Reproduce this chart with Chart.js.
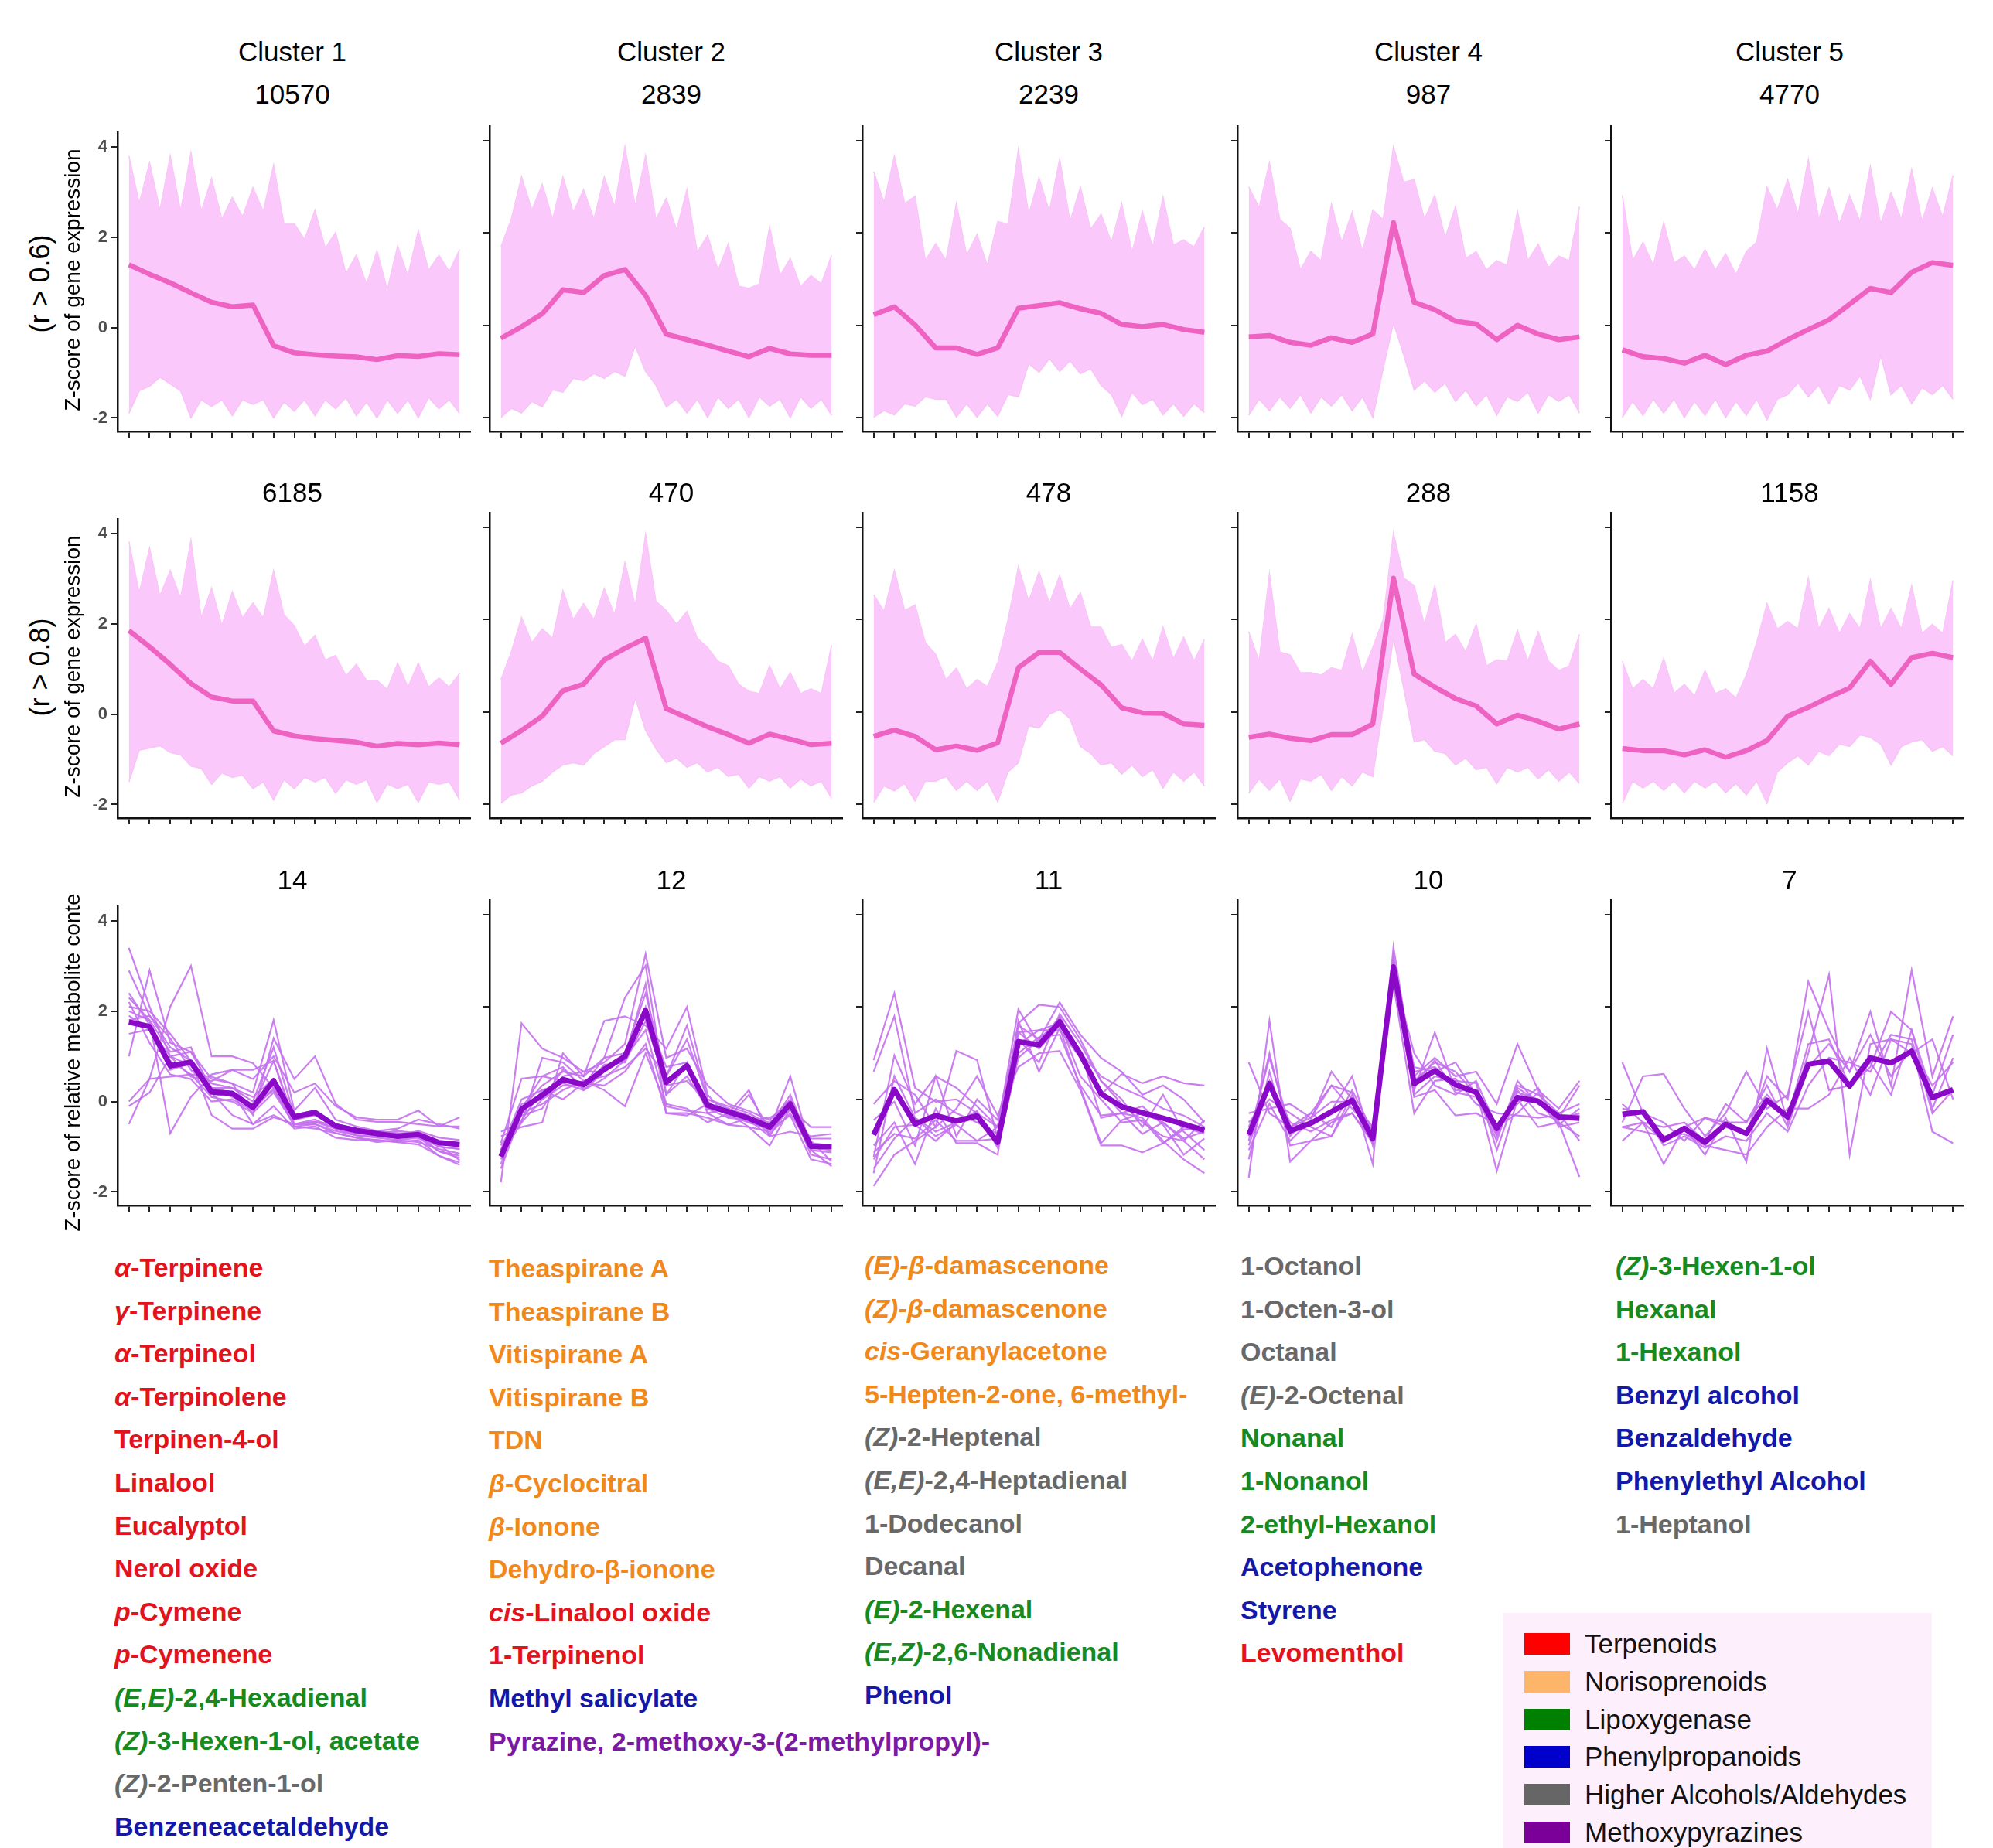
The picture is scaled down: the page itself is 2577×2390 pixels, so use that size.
<!DOCTYPE html>
<html><head><meta charset="utf-8">
<script src="https://cdn.jsdelivr.net/npm/chart.js@4/dist/chart.umd.min.js"></script>
<style>
body{margin:0;background:#fff;width:2577px;height:2390px;position:relative;overflow:hidden;font-family:"Liberation Sans",Arial,sans-serif;}
.t{position:absolute;white-space:nowrap;transform:translate(-50%,-50%);color:#000;}
.rot{position:absolute;white-space:nowrap;transform:translate(-50%,-50%) rotate(-90deg);color:#000;}
canvas{position:absolute;}
.item{position:absolute;white-space:nowrap;font-weight:bold;font-size:34px;line-height:40px;}
</style></head><body>
<script>
// ---------------- DATA ----------------
const stages = [1,2,3,4,5,6,7,8,9,10,11,12,13,14,15,16,17];
const halfSteps = [1,1.5,2,2.5,3,3.5,4,4.5,5,5.5,6,6.5,7,7.5,8,8.5,9,9.5,10,10.5,11,11.5,12,12.5,13,13.5,14,14.5,15,15.5,16,16.5,17];
const yTickValues = [-2,0,2,4];

const clusterNames = ['Cluster 1','Cluster 2','Cluster 3','Cluster 4','Cluster 5'];
const countsR06 = ['10570','2839','2239','987','4770'];
const countsR08 = ['6185','470','478','288','1158'];
const countsMet = ['14','12','11','10','7'];

// Row 1 (r > 0.6): mean profiles + envelope of all genes (tick values / between-tick values)
const r1c1Mean = [1.39,1.18,0.99,0.77,0.56,0.46,0.5,-0.4,-0.56,-0.6,-0.63,-0.65,-0.71,-0.62,-0.64,-0.58,-0.6];
const r1c1UpT = [3.8,3.65,3.8,3.87,3.3,2.88,3.1,3.6,2.3,2.6,2.1,1.6,1.7,1.8,2.15,1.6,1.73];
const r1c1UpM = [2.75,2.6,2.57,2.57,2.4,2.45,2.57,2.3,1.95,1.76,1.2,0.96,0.84,1.15,1.27,1.24];
const r1c1LoT = [-1.9,-1.3,-1.25,-2.0,-1.75,-1.95,-1.7,-2.0,-1.85,-1.95,-1.8,-1.95,-2.0,-1.9,-2.0,-1.8,-1.9];
const r1c1LoM = [-1.4,-1.1,-1.4,-1.6,-1.6,-1.6,-1.6,-1.65,-1.6,-1.6,-1.55,-1.65,-1.6,-1.6,-1.55,-1.6];

const r1c2Mean = [-0.28,-0.03,0.25,0.77,0.71,1.08,1.21,0.65,-0.19,-0.31,-0.43,-0.56,-0.68,-0.5,-0.62,-0.65,-0.65];
const r1c2UpT = [1.7,3.22,3.06,3.22,2.94,3.22,3.87,3.68,2.75,2.94,1.95,1.76,0.8,2.14,1.45,1.08,1.52];
const r1c2UpM = [2.3,2.5,2.3,2.45,2.3,2.57,2.57,2.3,2.07,1.58,1.2,0.85,0.9,1.08,0.84,0.9];
const r1c2LoT = [-2.0,-1.9,-1.77,-1.45,-1.2,-1.15,-1.1,-1.0,-1.77,-1.9,-2.0,-1.8,-2.0,-1.75,-2.0,-1.8,-1.95];
const r1c2LoM = [-1.8,-1.65,-1.4,-1.15,-1.05,-1.0,-0.45,-1.3,-1.6,-1.6,-1.55,-1.6,-1.55,-1.6,-1.55,-1.6];

const r1c3Mean = [0.23,0.4,0.01,-0.49,-0.49,-0.63,-0.49,0.37,0.43,0.49,0.36,0.26,0.02,-0.03,0.02,-0.09,-0.15];
const r1c3UpT = [3.33,3.67,2.8,1.77,2.64,1.97,2.25,3.81,3.2,3.61,3.0,2.41,2.64,2.47,2.78,1.85,2.13];
const r1c3UpM = [2.66,2.64,1.41,1.41,1.52,1.3,2.19,2.41,2.47,2.25,2.08,1.8,1.58,1.69,1.74,1.7];
const r1c3LoT = [-1.99,-1.94,-1.75,-1.6,-1.99,-1.99,-1.97,-1.55,-1.02,-1.0,-1.05,-1.3,-1.97,-1.72,-1.94,-1.97,-1.89];
const r1c3LoM = [-1.85,-1.7,-1.55,-1.6,-1.7,-1.7,-1.5,-0.83,-0.72,-0.77,-0.94,-1.5,-1.45,-1.6,-1.7,-1.7];

const r1c4Mean = [-0.25,-0.22,-0.37,-0.43,-0.27,-0.37,-0.19,2.23,0.5,0.34,0.09,0.03,-0.31,0.0,-0.19,-0.31,-0.25];
const r1c4UpT = [3.0,3.53,2.1,1.6,2.63,2.45,2.5,3.87,3.16,2.82,2.57,1.6,1.4,2.48,1.76,1.5,2.57];
const r1c4UpM = [2.55,2.3,1.2,1.4,1.8,1.6,2.3,3.1,2.3,1.9,1.45,1.2,1.3,1.4,1.25,1.4];
const r1c4LoT = [-1.95,-1.85,-1.8,-1.9,-1.75,-1.85,-2.0,0.05,-1.4,-1.45,-1.65,-1.75,-1.95,-1.65,-1.9,-1.65,-1.9];
const r1c4LoM = [-1.6,-1.55,-1.5,-1.55,-1.5,-1.55,-0.95,-0.65,-1.2,-1.25,-1.4,-1.5,-1.55,-1.45,-1.5,-1.5];

const r1c5Mean = [-0.53,-0.68,-0.72,-0.82,-0.65,-0.85,-0.65,-0.56,-0.31,-0.09,0.12,0.46,0.8,0.71,1.15,1.36,1.3];
const r1c5UpT = [2.82,1.8,2.23,1.5,1.65,1.55,1.6,3.0,3.16,3.6,2.97,2.82,3.44,2.88,3.38,2.97,3.25];
const r1c5UpM = [1.4,1.3,1.35,1.2,1.2,1.1,1.8,2.5,2.4,2.3,2.2,2.25,2.2,2.3,2.25,2.35];
const r1c5LoT = [-2.0,-1.95,-1.9,-2.0,-1.95,-2.0,-1.95,-2.05,-1.5,-1.55,-1.7,-1.4,-1.6,-1.5,-1.7,-1.5,-1.6];
const r1c5LoM = [-1.65,-1.6,-1.6,-1.65,-1.6,-1.65,-1.6,-1.6,-1.25,-1.3,-1.3,-1.1,-0.65,-1.3,-1.35,-1.3];

// Row 2 (r > 0.8)
const r2c1Mean = [1.85,1.49,1.1,0.68,0.38,0.29,0.29,-0.37,-0.48,-0.54,-0.58,-0.62,-0.71,-0.65,-0.68,-0.64,-0.68];
const r2c1UpT = [3.82,3.68,3.18,3.85,2.79,2.71,2.46,3.18,1.96,1.74,1.3,1.1,0.75,1.13,1.13,0.8,0.9];
const r2c1UpM = [2.68,2.62,2.57,2.13,1.96,2.13,2.13,2.2,1.5,1.2,0.85,0.75,0.55,0.6,0.6,0.6];
const r2c1LoT = [-1.5,-0.75,-0.85,-1.15,-1.55,-1.4,-1.65,-1.9,-1.65,-1.5,-1.75,-1.55,-1.95,-1.65,-1.95,-1.55,-1.9];
const r2c1LoM = [-0.8,-0.7,-0.9,-1.2,-1.3,-1.35,-1.5,-1.45,-1.4,-1.4,-1.45,-1.45,-1.55,-1.55,-1.5,-1.5];

const r2c2Mean = [-0.68,-0.4,-0.09,0.46,0.6,1.13,1.38,1.6,0.07,-0.12,-0.32,-0.49,-0.68,-0.48,-0.59,-0.71,-0.68];
const r2c2UpT = [0.7,2.05,1.8,2.63,2.35,2.68,3.24,3.85,2.2,2.18,1.4,1.0,0.45,1.0,0.85,0.5,1.45];
const r2c2UpM = [1.3,1.5,1.6,2.0,2.0,2.1,2.3,2.4,1.9,1.6,1.1,0.6,0.4,0.5,0.4,0.4];
const r2c2LoT = [-1.98,-1.75,-1.5,-1.15,-1.15,-0.75,-0.6,-0.4,-1.1,-1.2,-1.3,-1.4,-1.65,-1.5,-1.65,-1.6,-1.87];
const r2c2LoM = [-1.8,-1.6,-1.3,-1.1,-0.9,-0.6,0.3,-0.8,-1.0,-1.1,-1.2,-1.35,-1.4,-1.4,-1.45,-1.5];

const r2c3Mean = [-0.53,-0.39,-0.53,-0.82,-0.74,-0.83,-0.67,0.96,1.29,1.29,0.93,0.59,0.09,-0.02,-0.03,-0.26,-0.29];
const r2c3UpT = [2.54,3.07,2.32,1.25,0.95,0.7,1.07,3.15,3.04,2.96,2.59,1.84,1.46,1.57,1.84,1.62,1.57];
const r2c3UpM = [2.18,2.2,1.5,0.7,0.5,0.55,2.0,2.4,2.35,2.23,1.84,1.4,1.1,1.1,1.15,1.1];
const r2c3LoT = [-1.96,-1.71,-1.93,-1.5,-1.7,-1.7,-1.95,-1.1,-0.35,0.05,-0.75,-1.15,-1.35,-1.4,-1.65,-1.5,-1.6];
const r2c3LoM = [-1.6,-1.55,-1.5,-1.4,-1.5,-1.5,-1.3,-0.3,-0.05,-0.15,-0.9,-1.1,-1.15,-1.25,-1.3,-1.3];

const r2c4Mean = [-0.55,-0.48,-0.57,-0.62,-0.49,-0.49,-0.26,2.9,0.82,0.54,0.29,0.13,-0.26,-0.07,-0.2,-0.37,-0.26];
const r2c4UpT = [1.74,2.99,1.24,0.85,0.96,1.68,1.4,3.88,2.74,2.74,1.68,1.9,1.13,1.77,1.74,0.9,1.68];
const r2c4UpM = [1.1,1.3,0.85,0.8,0.9,0.85,2.0,2.9,1.9,1.5,1.3,1.0,1.1,1.1,1.1,1.0];
const r2c4LoT = [-1.76,-1.7,-1.93,-1.5,-1.7,-1.6,-1.4,1.6,-0.65,-0.85,-1.15,-1.25,-1.55,-1.3,-1.45,-1.5,-1.55];
const r2c4LoM = [-1.45,-1.45,-1.45,-1.35,-1.4,-1.3,0.1,0.5,-0.6,-0.9,-1.0,-1.2,-1.2,-1.2,-1.25,-1.3];

const r2c5Mean = [-0.79,-0.84,-0.84,-0.93,-0.82,-0.98,-0.84,-0.62,-0.09,0.1,0.32,0.52,1.1,0.6,1.18,1.27,1.18];
const r2c5UpT = [1.1,0.7,1.16,0.6,0.9,0.5,0.8,2.35,1.96,2.9,2.24,2.13,2.85,2.24,2.74,1.9,2.85];
const r2c5UpM = [0.5,0.5,0.4,0.35,0.4,0.3,1.5,1.8,1.8,1.8,1.7,1.8,1.8,1.8,1.7,1.7];
const r2c5LoT = [-1.98,-1.65,-1.7,-1.75,-1.65,-1.75,-1.8,-1.98,-1.1,-1.15,-0.95,-0.75,-0.55,-1.15,-0.65,-0.85,-0.95];
const r2c5LoM = [-1.5,-1.5,-1.5,-1.5,-1.5,-1.55,-1.5,-1.3,-0.95,-0.85,-0.7,-0.5,-0.7,-0.75,-0.6,-0.75];

// Row 3: metabolites (mean + individual compounds)
const r3c1Mean = [1.76,1.66,0.79,0.87,0.21,0.18,-0.13,0.46,-0.34,-0.24,-0.54,-0.64,-0.71,-0.77,-0.73,-0.91,-0.95];
const r3c1Lines = [
 [3.4,2.1,1.0,1.1,0.3,0.2,-0.1,0.9,-0.4,-0.3,-0.5,-0.6,-0.7,-0.8,-0.7,-1.0,-1.05],
 [2.9,1.9,1.2,0.9,0.4,0.3,0.0,1.2,-0.3,-0.2,-0.6,-0.7,-0.75,-0.8,-0.75,-1.1,-1.2],
 [1.0,2.9,1.3,1.1,0.5,0.4,0.2,1.8,-0.2,0.3,-0.4,-0.55,-0.65,-0.7,-0.7,-0.9,-1.0],
 [0.0,0.5,2.1,3.0,1.0,1.0,0.85,0.3,-0.5,-0.4,-0.6,-0.7,-0.75,-0.7,-0.8,-0.95,-1.3],
 [-0.5,0.5,0.55,0.6,0.55,0.4,-0.3,1.4,0.5,1.0,-0.05,-0.4,-0.45,-0.45,-0.5,-0.55,-0.55],
 [-0.1,0.2,1.0,0.55,0.45,0.7,0.5,1.0,0.2,0.4,-0.1,-0.35,-0.4,-0.4,-0.2,-0.55,-0.35],
 [2.0,1.8,-0.7,0.1,0.6,0.7,0.7,0.9,-0.5,-0.45,-0.6,-0.75,-0.8,-0.85,-0.8,-1.1,-1.25],
 [2.3,1.8,1.1,1.2,0.2,-0.3,-0.5,-0.3,-0.55,-0.5,-0.7,-0.8,-0.85,-0.9,-0.85,-1.2,-1.35],
 [2.1,2.0,1.5,0.9,-0.3,-0.6,-0.6,-0.35,-0.5,-0.45,-0.5,-0.65,-0.7,-0.65,-0.7,-0.9,-0.95],
 [1.8,1.9,1.4,0.7,0.3,0.1,-0.1,0.25,-0.4,-0.3,-0.55,-0.65,-0.7,-0.75,-0.65,-0.8,-0.85],
 [2.4,1.7,0.7,0.85,0.1,0.2,-0.5,-0.1,-0.6,-0.55,-0.8,-0.85,-0.85,-0.9,-0.95,-1.2,-1.4],
 [1.5,1.6,0.9,0.6,0.1,0.0,-0.25,0.2,-0.5,-0.5,-0.65,-0.75,-0.78,-0.8,-0.78,-1.0,-1.05],
 [2.2,1.3,0.6,0.5,0.0,0.05,-0.2,0.3,-0.55,-0.6,-0.7,-0.8,-0.9,-0.85,-0.9,-1.05,-1.15],
 [1.9,1.6,1.0,0.8,0.3,0.3,0.1,0.5,-0.3,-0.25,-0.5,-0.6,-0.65,-0.6,-0.4,-0.5,-0.6]
];
const r3c2Mean = [-1.24,-0.21,0.09,0.43,0.32,0.65,0.93,1.93,0.37,0.73,-0.13,-0.27,-0.41,-0.6,-0.1,-1.02,-1.02];
const r3c2Lines = [
 [-1.8,1.65,1.1,0.9,0.6,0.8,1.2,3.15,0.9,1.1,0.3,-0.1,-0.25,-0.45,0.0,-0.9,-1.35],
 [-0.8,-0.6,-0.5,1.0,0.5,1.7,1.8,1.6,1.1,2.0,0.1,-0.4,0.1,-0.65,0.5,-1.1,-1.45],
 [-1.4,-0.2,0.5,0.4,0.3,0.9,2.2,2.9,0.1,0.8,-0.2,-0.3,-0.6,-1.0,-0.2,-0.85,-0.85],
 [-0.95,0.45,0.5,0.7,0.2,0.6,0.9,2.5,-0.3,-0.3,-0.4,-0.55,-0.6,-0.7,-0.2,-0.6,-0.6],
 [-1.2,-0.5,0.0,0.3,0.3,0.7,0.9,1.5,-0.1,-0.2,-0.5,-0.3,0.2,-0.8,-0.7,-0.8,-0.75],
 [-0.7,-0.5,0.9,0.8,0.4,0.2,-0.15,1.0,-0.15,-0.25,-0.3,-0.55,-0.4,-0.5,-0.15,-1.2,-1.3],
 [-1.1,-0.2,0.3,0.6,0.5,0.9,1.0,2.3,0.5,1.3,0.0,-0.2,-0.5,-0.6,0.1,-1.0,-1.05],
 [-1.3,-0.45,0.2,0.0,0.35,0.3,0.6,1.2,-0.3,-0.35,-0.1,-0.3,-0.45,-0.4,-0.15,-0.95,-1.0],
 [-1.0,-0.35,-0.2,0.5,0.6,0.6,1.0,1.8,0.7,0.8,-0.3,-0.2,-0.35,-0.75,-0.3,-1.05,-1.1],
 [-1.5,-0.3,-0.1,0.2,0.4,0.5,0.7,1.1,0.5,1.6,0.0,-0.15,-0.3,-0.55,0.0,-1.1,-1.15],
 [-1.25,-0.1,0.0,0.65,0.25,0.75,0.8,1.7,0.3,0.4,-0.05,-0.35,-0.5,-0.65,-0.35,-1.3,-1.4],
 [-1.1,0.0,0.2,0.35,0.2,0.45,0.85,2.0,0.1,0.5,-0.2,-0.4,-0.45,-0.8,-0.1,-1.0,-1.0]
];
const r3c3Mean = [-0.77,0.21,-0.53,-0.35,-0.47,-0.36,-0.93,1.25,1.18,1.68,0.98,0.12,-0.16,-0.29,-0.41,-0.54,-0.67];
const r3c3Lines = [
 [0.85,2.3,0.25,-0.05,0.0,-0.3,-0.6,1.95,1.2,1.8,0.95,0.2,-0.3,-0.4,-0.9,-1.3,-1.6],
 [0.6,1.8,-0.3,0.0,-0.3,-0.5,-0.75,1.65,2.05,2.0,1.3,0.4,-0.1,-0.5,-0.8,-0.9,-1.3],
 [-1.25,0.95,-0.1,0.5,0.25,-0.15,-0.6,1.6,1.3,2.1,1.4,0.9,0.6,0.1,0.3,0.0,-0.5],
 [-0.1,0.4,0.1,-0.6,1.05,0.85,-0.85,1.45,1.5,1.5,0.9,0.1,0.55,0.35,0.5,0.35,0.3],
 [-1.88,-1.2,-0.9,-0.6,-0.2,0.5,-0.35,0.7,1.0,1.05,0.2,-1.0,-1.0,-1.15,-0.95,-0.65,-0.65],
 [-1.6,0.5,-0.4,-0.8,-0.55,-0.9,-0.6,1.3,0.8,1.85,1.2,0.4,0.0,-0.6,0.1,-0.7,-1.1],
 [-1.0,-0.5,-1.4,-0.2,-0.95,-0.95,-1.2,1.7,0.6,1.55,0.25,-0.95,-0.45,-0.3,-0.5,-0.9,-0.45],
 [-1.5,-0.85,-0.4,-0.7,-0.5,-0.3,-0.95,1.0,1.35,1.4,0.3,-0.35,-0.3,-0.15,-0.55,-1.2,-0.85],
 [-0.45,-0.05,-1.0,0.5,-0.8,0.0,-0.45,1.45,1.1,1.6,1.0,0.5,0.25,0.05,-0.2,-0.35,-0.6],
 [-1.3,-0.6,-0.55,-0.9,-0.5,-0.25,-1.05,0.9,1.3,1.75,1.05,-0.4,-0.3,-0.75,-0.5,-0.85,-0.7],
 [-1.15,-0.75,-0.85,-0.45,-0.9,-0.9,-0.85,1.2,1.5,1.65,0.5,0.0,-0.5,-0.45,-0.95,-0.6,-0.75]
];
const r3c4Mean = [-0.77,0.34,-0.68,-0.52,-0.27,-0.02,-0.85,2.87,0.34,0.62,0.32,0.15,-0.63,0.04,-0.04,-0.38,-0.41];
const r3c4Lines = [
 [0.8,-0.3,-0.6,-0.4,0.3,0.15,-1.4,3.3,0.5,0.9,0.5,0.6,-0.1,1.2,0.2,-0.2,0.4],
 [-1.7,1.7,-1.35,-0.9,-0.5,-0.3,-0.9,2.6,0.2,1.45,0.2,0.2,-1.55,0.0,-0.6,-0.5,-1.68],
 [-0.9,1.0,-0.8,-0.3,0.3,-0.2,-0.7,2.9,0.7,0.6,0.8,0.1,-0.75,0.3,0.1,-0.3,-0.1],
 [-1.3,0.6,-1.0,-0.9,-0.8,0.1,-0.8,2.7,1.0,0.3,0.1,0.4,-0.6,-0.3,0.15,-0.5,-0.8],
 [-0.5,0.0,-0.3,-0.6,-0.8,-0.05,-0.6,3.0,0.1,0.5,0.4,0.35,-1.1,0.2,-0.3,-0.45,-0.3],
 [-1.0,0.3,-0.75,-0.5,-0.25,0.5,-1.0,2.8,0.05,0.2,-0.35,-0.3,-0.55,-0.1,0.25,-0.6,-0.5],
 [-0.3,-0.2,-0.1,-0.4,-0.05,-0.05,-0.7,2.5,-0.3,0.4,0.45,-0.1,-0.3,-0.35,-0.4,-0.35,-0.35],
 [-1.1,-0.1,-0.9,-0.45,0.6,0.0,-0.9,2.9,0.6,0.7,0.3,0.2,-0.8,0.15,0.0,-0.4,0.3],
 [-0.6,0.4,-0.5,-0.7,-0.45,-0.3,-0.95,3.1,0.4,0.8,0.6,0.1,-0.9,0.4,-0.1,-0.3,-0.9],
 [-0.8,0.9,-0.6,-0.3,-0.6,0.2,-0.7,2.75,0.3,0.85,0.15,0.05,-0.7,0.25,-0.05,-0.55,-0.2]
];
const r3c5Mean = [-0.32,-0.27,-0.88,-0.63,-0.93,-0.54,-0.74,-0.02,-0.38,0.76,0.83,0.29,0.9,0.79,1.04,0.04,0.21];
const r3c5Lines = [
 [0.8,-0.3,-0.5,-0.9,-0.4,-0.6,-0.75,0.5,0.0,2.55,1.5,0.6,1.9,0.3,2.8,0.5,1.8],
 [-0.5,0.5,0.55,-0.2,-0.8,-0.3,0.6,-0.2,0.1,1.9,0.2,0.3,0.7,1.9,1.5,0.1,1.4],
 [-0.9,-0.5,-1.4,-0.6,-1.2,-0.4,-1.35,1.1,-0.5,1.0,2.7,-1.2,1.2,1.3,1.2,-0.7,-0.95],
 [-0.6,-0.7,-0.8,-0.75,-1.0,-1.1,-1.2,-0.6,-0.2,-0.2,0.1,0.9,0.1,1.3,1.0,1.3,0.0],
 [-0.1,-0.5,-0.9,-0.6,-0.4,-0.5,-0.5,0.3,-0.6,0.7,1.2,0.6,1.4,0.5,1.1,0.3,0.8],
 [-0.2,-0.3,-1.0,-0.8,-1.05,-0.8,-0.9,-0.3,-0.7,0.3,0.9,0.8,0.6,1.4,1.3,-0.3,0.2],
 [-0.6,-0.5,-0.6,-0.5,-0.9,-0.1,-0.5,0.1,-0.4,1.2,1.3,0.3,0.8,0.1,1.5,-0.2,0.9]
];

// Compound lists ("*...*" = italic), category code
const compoundsC1 = [['*α*-Terpinene','T'],['*γ*-Terpinene','T'],['*α*-Terpineol','T'],['*α*-Terpinolene','T'],['Terpinen-4-ol','T'],['Linalool','T'],['Eucalyptol','T'],['Nerol oxide','T'],['*p*-Cymene','T'],['*p*-Cymenene','T'],['*(E,E)*-2,4-Hexadienal','L'],['*(Z)*-3-Hexen-1-ol, acetate','L'],['*(Z)*-2-Penten-1-ol','H'],['Benzeneacetaldehyde','P']];
const compoundsC2 = [['Theaspirane A','N'],['Theaspirane B','N'],['Vitispirane A','N'],['Vitispirane B','N'],['TDN','N'],['*β*-Cyclocitral','N'],['*β*-Ionone','N'],['Dehydro-β-ionone','N'],['*cis*-Linalool oxide','T'],['1-Terpinenol','T'],['Methyl salicylate','P'],['Pyrazine, 2-methoxy-3-(2-methylpropyl)-','M']];
const compoundsC3 = [['*(E)-β*-damascenone','N'],['*(Z)-β*-damascenone','N'],['*cis*-Geranylacetone','N'],['5-Hepten-2-one, 6-methyl-','N'],['*(Z)*-2-Heptenal','H'],['*(E,E)*-2,4-Heptadienal','H'],['1-Dodecanol','H'],['Decanal','H'],['*(E)*-2-Hexenal','L'],['*(E,Z)*-2,6-Nonadienal','L'],['Phenol','P']];
const compoundsC4 = [['1-Octanol','H'],['1-Octen-3-ol','H'],['Octanal','H'],['*(E)*-2-Octenal','H'],['Nonanal','L'],['1-Nonanol','L'],['2-ethyl-Hexanol','L'],['Acetophenone','P'],['Styrene','P'],['Levomenthol','T']];
const compoundsC5 = [['*(Z)*-3-Hexen-1-ol','L'],['Hexanal','L'],['1-Hexanol','L'],['Benzyl alcohol','P'],['Benzaldehyde','P'],['Phenylethyl Alcohol','P'],['1-Heptanol','H']];

const legendLabels = ['Terpenoids','Norisoprenoids','Lipoxygenase','Phenylpropanoids','Higher Alcohols/Aldehydes','Methoxypyrazines'];
const legendCats = ['T','N','L','P','H','M'];

// ---------------- STYLE / LAYOUT ----------------
const textColors = {T:'#E2131C',N:'#F0881C',L:'#168A1E',P:'#1418A8',H:'#686868',M:'#7A1AA2'};
const swatchColors = {T:'#FF0000',N:'#FDB56B',L:'#008000',P:'#0000CC',H:'#666666',M:'#7B0099'};
const axisX = [152,633,1115,1600,2083];
const rowTop = [163,663,1164];
const PW = 457, PH = 395, YW = 60, PADT = 10, XH = 20;
const titleX = [378,868,1356,1847,2314];

Chart.defaults.font.family = "'Liberation Sans', Arial, sans-serif";

function addText(txt, x, y, size, cls, extra) {
  const d = document.createElement('div');
  d.className = cls || 't';
  d.textContent = txt;
  d.style.left = x + 'px'; d.style.top = y + 'px'; d.style.fontSize = size + 'px';
  if (extra) Object.assign(d.style, extra);
  document.body.appendChild(d);
}
function interleave(t, m) {
  const out = [];
  for (let i = 0; i < t.length; i++) { out.push(t[i]); if (i < m.length) out.push(m[i]); }
  return out;
}
function pts(xs, ys) { return xs.map((x, i) => ({x: x, y: ys[i]})); }

function makeChart(row, col, datasets) {
  const c = document.createElement('canvas');
  c.width = YW + PW; c.height = PADT + PH + XH;
  c.style.left = (axisX[col] - YW) + 'px';
  c.style.top = (rowTop[row] - PADT) + 'px';
  document.body.appendChild(c);
  const gridOpt = {display: true, drawOnChartArea: false, drawTicks: true, tickLength: 8, color: '#222', lineWidth: 2};
  const borderOpt = {display: true, color: '#111', width: 2.5};
  new Chart(c.getContext('2d'), {
    type: 'line',
    data: {datasets: datasets},
    options: {
      responsive: false, animation: false, devicePixelRatio: 1, events: [],
      layout: {padding: {top: PADT, left: 0, right: 0, bottom: 0}},
      plugins: {legend: {display: false}, tooltip: {enabled: false}},
      elements: {point: {radius: 0}, line: {tension: 0}},
      scales: {
        x: {type: 'linear', min: 0.45, max: 17.55,
            afterBuildTicks: s => { s.ticks = stages.map(v => ({value: v})); },
            afterFit: s => { s.height = XH; },
            ticks: {display: false}, grid: gridOpt, border: borderOpt},
        y: {type: 'linear', min: -2.3, max: 4.32,
            afterBuildTicks: s => { s.ticks = yTickValues.map(v => ({value: v})); },
            afterFit: s => { s.width = YW; },
            ticks: {display: col === 0, color: '#4D4D4D', padding: 5, font: {size: 22, weight: 'bold'}},
            grid: gridOpt, border: borderOpt}
      }
    }
  });
}

const geneRows = [
  [[r1c1Mean,r1c1UpT,r1c1UpM,r1c1LoT,r1c1LoM],[r1c2Mean,r1c2UpT,r1c2UpM,r1c2LoT,r1c2LoM],[r1c3Mean,r1c3UpT,r1c3UpM,r1c3LoT,r1c3LoM],[r1c4Mean,r1c4UpT,r1c4UpM,r1c4LoT,r1c4LoM],[r1c5Mean,r1c5UpT,r1c5UpM,r1c5LoT,r1c5LoM]],
  [[r2c1Mean,r2c1UpT,r2c1UpM,r2c1LoT,r2c1LoM],[r2c2Mean,r2c2UpT,r2c2UpM,r2c2LoT,r2c2LoM],[r2c3Mean,r2c3UpT,r2c3UpM,r2c3LoT,r2c3LoM],[r2c4Mean,r2c4UpT,r2c4UpM,r2c4LoT,r2c4LoM],[r2c5Mean,r2c5UpT,r2c5UpM,r2c5LoT,r2c5LoM]]
];
geneRows.forEach((rowPanels, r) => {
  rowPanels.forEach((p, c) => {
    const [mean, upT, upM, loT, loM] = p;
    makeChart(r, c, [
      {data: pts(stages, mean), borderColor: '#EE62C1', borderWidth: 6.5, fill: false, order: 0, borderJoinStyle: 'round'},
      {data: pts(halfSteps, interleave(upT, upM)), borderColor: '#F8C4F6', borderWidth: 1.5, fill: false, order: 2},
      {data: pts(halfSteps, interleave(loT, loM)), borderColor: '#F8C4F6', borderWidth: 1.5, fill: '-1', backgroundColor: '#FBC8FB', order: 1}
    ]);
  });
});

const metRows = [[r3c1Mean,r3c1Lines],[r3c2Mean,r3c2Lines],[r3c3Mean,r3c3Lines],[r3c4Mean,r3c4Lines],[r3c5Mean,r3c5Lines]];
metRows.forEach((p, c) => {
  const [mean, lines] = p;
  const ds = lines.map(l => ({data: pts(stages, l), borderColor: 'rgba(196,112,238,0.9)', borderWidth: 2.2, fill: false, order: 1}));
  ds.unshift({data: pts(stages, mean), borderColor: '#8A08C8', borderWidth: 7, fill: false, order: 0, borderJoinStyle: 'round'});
  makeChart(2, c, ds);
});

// Titles
for (let c = 0; c < 5; c++) {
  addText(clusterNames[c], titleX[c], 67, 35);
  addText(countsR06[c], titleX[c], 122, 35);
  addText(countsR08[c], titleX[c], 637, 35);
  addText(countsMet[c], titleX[c], 1138, 35);
}
// Axis titles
addText('Z-score of gene expression', 94, 362, 28, 'rot');
addText('Z-score of gene expression', 94, 862, 28, 'rot');
addText('(r > 0.6)', 52, 367, 36, 'rot');
addText('(r > 0.8)', 52, 863, 36, 'rot');
addText('Z-score of relative metabolite conte', 94, 1374, 28, 'rot');

// Compound lists
function addList(list, x, y0, step) {
  list.forEach((it, i) => {
    const d = document.createElement('div');
    d.className = 'item';
    d.style.left = x + 'px';
    d.style.top = (y0 + i * step - 20) + 'px';
    d.style.color = textColors[it[1]];
    const parts = it[0].split('*');
    parts.forEach((s, k) => {
      if (!s) return;
      const sp = document.createElement('span');
      sp.textContent = s;
      if (k % 2 === 1) sp.style.fontStyle = 'italic';
      d.appendChild(sp);
    });
    document.body.appendChild(d);
  });
}
addList(compoundsC1, 148, 1639, 55.6);
addList(compoundsC2, 632, 1640, 55.6);
addList(compoundsC3, 1118, 1636, 55.6);
addList(compoundsC4, 1604, 1637, 55.6);
addList(compoundsC5, 2089, 1637, 55.6);

// Legend
const lg = document.createElement('div');
Object.assign(lg.style, {position: 'absolute', left: '1943px', top: '2086px', width: '555px', height: '304px', background: '#FDF0FC'});
document.body.appendChild(lg);
legendLabels.forEach((lab, i) => {
  const y = 2126 + i * 48.8;
  const sw = document.createElement('div');
  Object.assign(sw.style, {position: 'absolute', left: '1971px', top: (y - 14) + 'px', width: '59px', height: '28px', background: swatchColors[legendCats[i]]});
  document.body.appendChild(sw);
  addText(lab, 2049, y, 35, 't', {transform: 'translate(0,-50%)', color: '#111'});
});
</script>
</body></html>
